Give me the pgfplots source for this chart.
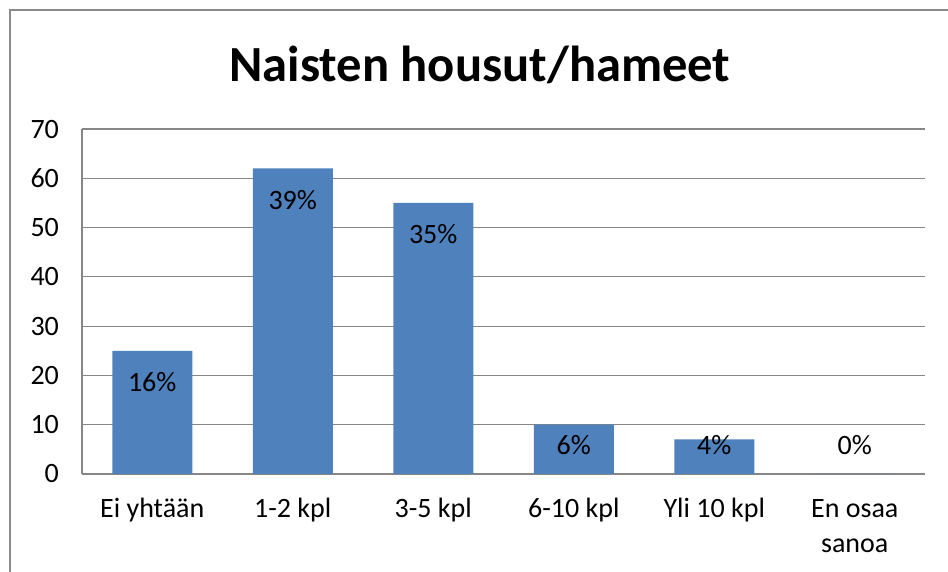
\documentclass[border=0pt]{standalone}
\usepackage{fontspec}
\setmainfont{Carlito}
\usepackage{pgfplots}
\pgfplotsset{compat=1.18}
\definecolor{barblue}{HTML}{4F81BD}
\definecolor{gridgray}{HTML}{868686}
\definecolor{framegray}{HTML}{8A8A8A}
\newcommand{\lblfont}{\fontsize{14}{17.5}\selectfont}

\begin{document}
\begin{tikzpicture}
\useasboundingbox (-41pt,-49pt) rectangle (433pt,237pt);
\draw[framegray, line width=1.2pt] (-36pt,-60pt) -- (-36pt,232pt) -- (440pt,232pt);
\begin{axis}[
    scale only axis,
    width=421.5pt, height=172.5pt,
    xmin=-0.5, xmax=5.5,
    ymin=0, ymax=70,
    ytick={0,10,...,70},
    xtick={0,1,2,3,4,5},
    xticklabels={Ei yhtään, 1-2 kpl, 3-5 kpl, 6-10 kpl, Yli 10 kpl,
      {\begin{tabular}[t]{@{}c@{}}En osaa\\sanoa\end{tabular}}},
    axis x line*=bottom, axis y line*=left,
    axis line style={gridgray, line width=0.6pt, -},
    ymajorgrids, grid style={gridgray, line width=0.6pt},
    major tick length=0pt,
    tick label style={font=\lblfont, black},
    yticklabel style={anchor=east, xshift=-8pt},
    xticklabel style={anchor=base, yshift=-22pt},
    /pgf/number format/assume math mode=true,
    clip=false,
]
\addplot[ybar, bar width=40pt, fill=barblue, draw=none] table[x=x, y=y] {
x y
0 25
1 62
2 55
3 10
4 7
5 0
};
\addplot[draw=none, mark=none, nodes near coords, point meta=explicit symbolic,
    nodes near coords style={anchor=center, font=\lblfont, black, inner sep=0pt}]
    table[x=x, y=ly, meta=lbl] {
x ly lbl
0 18.7 16\%
1 55.6 39\%
2 48.7 35\%
3 5.8 6\%
4 5.8 4\%
5 5.8 0\%
};
\node[font=\fontsize{25.3}{30}\selectfont\bfseries, anchor=base]
    at (rel axis cs:0.472,1) [yshift=24pt] {Naisten housut/hameet};
\end{axis}
\end{tikzpicture}
\end{document}
